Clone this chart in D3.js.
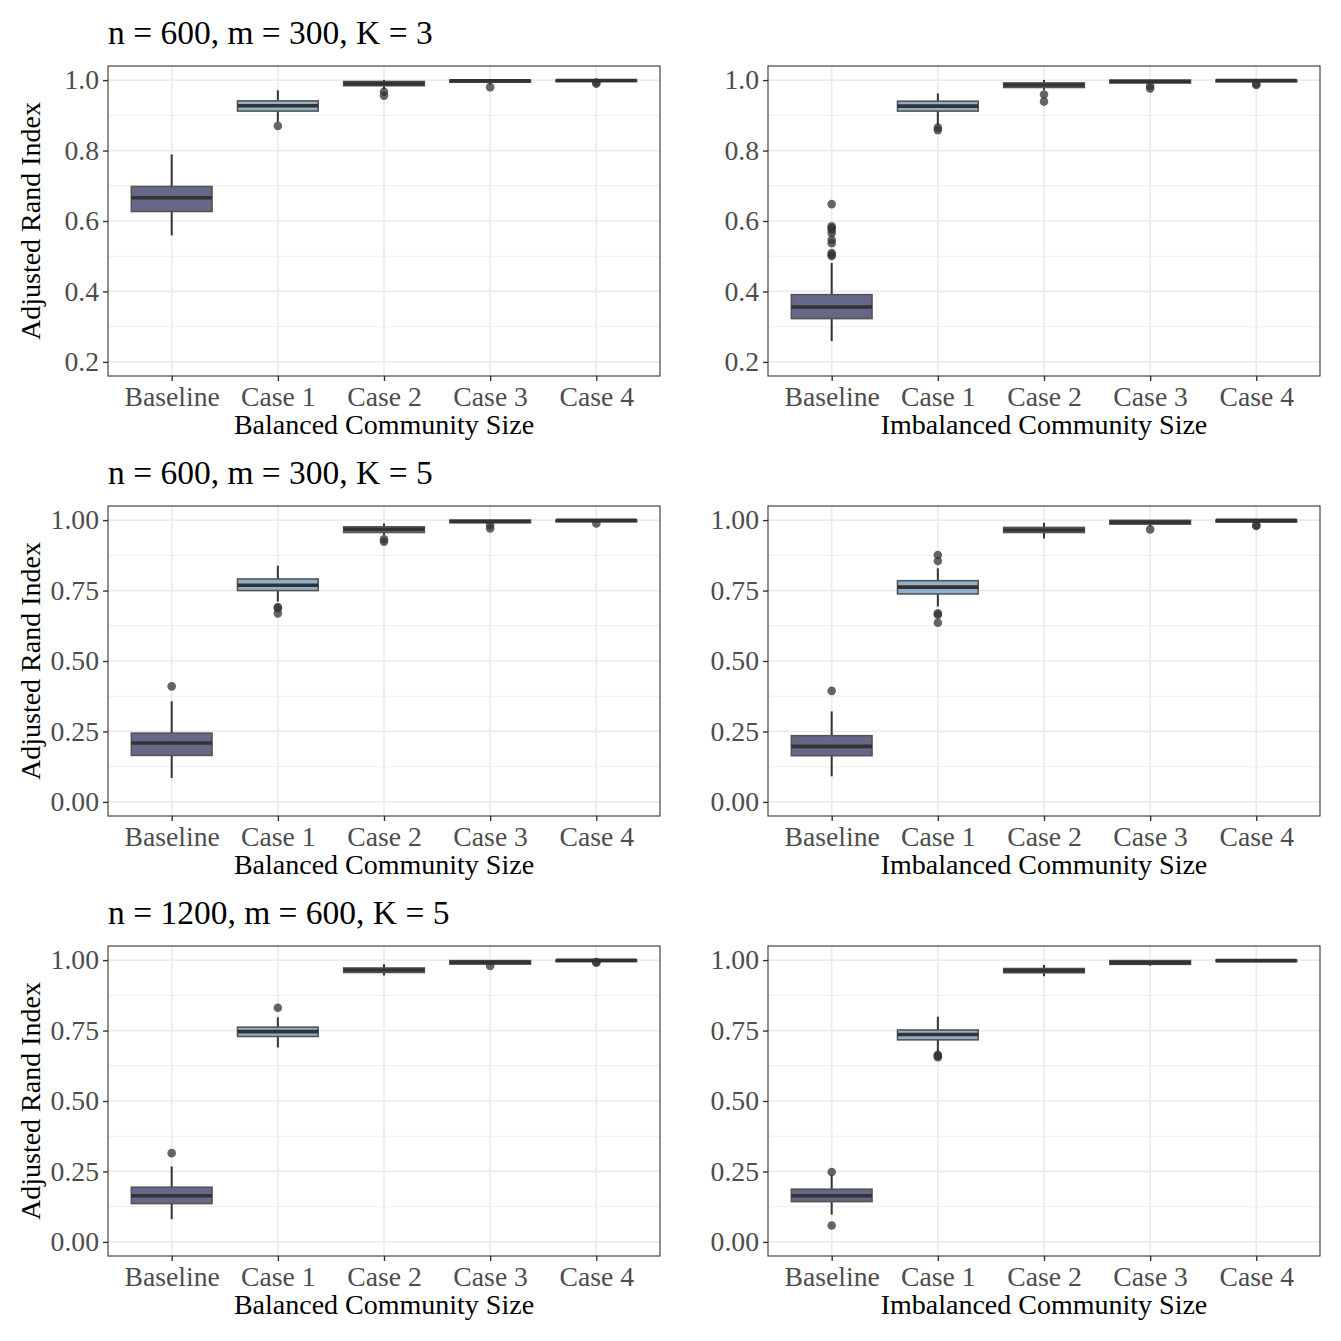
<!DOCTYPE html>
<html>
<head>
<meta charset="utf-8">
<script src="https://cdn.jsdelivr.net/npm/d3@7"></script>
<style>
  body { margin: 0; background: #fff; }
  svg, svg text { font-family: "Liberation Serif", "Times New Roman", serif; }
</style>
</head>
<body>
<svg></svg>
<script>
const categories = ["Baseline", "Case 1", "Case 2", "Case 3", "Case 4"];
const boxFills = ["#5d6083", "#8aadcb", "#6f8aa6", "#a9bdd2", "#cfdbe7"];
const rowTitles = ["n = 600, m = 300, K = 3", "n = 600, m = 300, K = 5", "n = 1200, m = 600, K = 5"];
const colTitles = ["Balanced Community Size", "Imbalanced Community Size"];
const yTitle = "Adjusted Rand Index";

const yTicksK3 = [0.2, 0.4, 0.6, 0.8, 1.0];
const yTicksK5 = [0, 0.25, 0.5, 0.75, 1.0];

// each box: [lower whisker, q1, median, q3, upper whisker]
const balK3Boxes = [
  [0.559, 0.627, 0.666, 0.698, 0.789],
  [0.882, 0.912, 0.927, 0.941, 0.971],
  [0.974, 0.984, 0.990, 0.996, 1.0],
  [0.988, 0.994, 0.998, 1.0, 1.0],
  [0.995, 0.996, 0.999, 1.0, 1.0]
];
const balK3Outliers = [[], [0.870], [0.967, 0.956], [0.980], [0.993, 0.990]];

const imbK3Boxes = [
  [0.259, 0.323, 0.356, 0.391, 0.481],
  [0.872, 0.912, 0.926, 0.940, 0.962],
  [0.972, 0.979, 0.986, 0.992, 1.0],
  [0.988, 0.992, 0.996, 1.0, 1.0],
  [0.993, 0.995, 0.999, 1.0, 1.0]
];
const imbK3Outliers = [
  [0.648, 0.585, 0.580, 0.575, 0.566, 0.547, 0.537, 0.509, 0.504, 0.501],
  [0.865, 0.858], [0.959, 0.939], [0.983, 0.976], [0.989, 0.986]
];

const balK5Boxes = [
  [0.085, 0.165, 0.209, 0.244, 0.357],
  [0.711, 0.750, 0.769, 0.791, 0.838],
  [0.947, 0.956, 0.967, 0.976, 0.988],
  [0.985, 0.991, 0.995, 1.0, 1.0],
  [0.992, 0.994, 0.999, 1.0, 1.0]
];
const balK5Outliers = [[0.410], [0.691, 0.687, 0.669], [0.932, 0.923], [0.982, 0.970], [0.988]];

const imbK5Boxes = [
  [0.091, 0.164, 0.197, 0.235, 0.321],
  [0.693, 0.738, 0.762, 0.785, 0.829],
  [0.935, 0.956, 0.965, 0.974, 0.991],
  [0.978, 0.986, 0.992, 0.999, 1.0],
  [0.988, 0.993, 0.999, 1.0, 1.0]
];
const imbK5Outliers = [[0.394], [0.876, 0.855, 0.669, 0.664, 0.636], [], [0.967], [0.982, 0.979]];

const balN1200Boxes = [
  [0.081, 0.136, 0.164, 0.194, 0.268],
  [0.690, 0.729, 0.746, 0.762, 0.797],
  [0.945, 0.956, 0.965, 0.972, 0.985],
  [0.983, 0.986, 0.992, 0.998, 1.0],
  [0.994, 0.995, 0.999, 1.0, 1.0]
];
const balN1200Outliers = [[0.315], [0.831], [], [0.979], [0.991, 0.993]];

const imbN1200Boxes = [
  [0.097, 0.143, 0.164, 0.187, 0.238],
  [0.675, 0.717, 0.736, 0.752, 0.799],
  [0.943, 0.955, 0.963, 0.970, 0.983],
  [0.980, 0.985, 0.991, 0.998, 1.0],
  [0.994, 0.995, 0.998, 1.0, 1.0]
];
const imbN1200Outliers = [[0.248, 0.058], [0.664, 0.660, 0.655], [], [], []];

const rows = [
  { domain: [0.16, 1.04], ticks: yTicksK3, fmt: ".1f", panels: [[balK3Boxes, balK3Outliers], [imbK3Boxes, imbK3Outliers]] },
  { domain: [-0.05, 1.05], ticks: yTicksK5, fmt: ".2f", panels: [[balK5Boxes, balK5Outliers], [imbK5Boxes, imbK5Outliers]] },
  { domain: [-0.05, 1.05], ticks: yTicksK5, fmt: ".2f", panels: [[balN1200Boxes, balN1200Outliers], [imbN1200Boxes, imbN1200Outliers]] }
];

const svg = d3.select("svg").attr("width", 1341).attr("height", 1341);

const colX = [108, 768];
const rowY = [66, 506, 946];
const plotW = 552;
const plotH = 310;
const serif = "Liberation Serif, Times New Roman, serif";

rows.forEach((row, ri) => {
  row.panels.forEach(([boxes, outliers], ci) => {
    const g = svg.append("g").attr("transform", `translate(${colX[ci]}, ${rowY[ri]})`);

    const x = d3.scalePoint().domain(categories).range([0, plotW]).padding(0.6);
    const y = d3.scaleLinear().domain(row.domain).range([plotH, 0]);
    const boxW = x.step() * 0.76;

    // minor grid
    const minor = d3.pairs(row.ticks).map(([a, b]) => (a + b) / 2);
    g.selectAll(".minor").data(minor).join("line")
      .attr("x1", 0).attr("x2", plotW)
      .attr("y1", d => y(d)).attr("y2", d => y(d))
      .attr("stroke", "#ebebeb").attr("stroke-width", 0.9);
    // major grid
    g.selectAll(".hgrid").data(row.ticks).join("line")
      .attr("x1", 0).attr("x2", plotW)
      .attr("y1", d => y(d)).attr("y2", d => y(d))
      .attr("stroke", "#ebebeb").attr("stroke-width", 1.7);
    g.selectAll(".vgrid").data(categories).join("line")
      .attr("x1", d => x(d)).attr("x2", d => x(d))
      .attr("y1", 0).attr("y2", plotH)
      .attr("stroke", "#ebebeb").attr("stroke-width", 1.7);

    // boxes
    const bg = g.selectAll(".box").data(boxes).join("g")
      .attr("transform", (d, i) => `translate(${x(categories[i])}, 0)`);

    bg.append("line")
      .attr("y1", d => y(d[0])).attr("y2", d => y(d[1]))
      .attr("stroke", "#333").attr("stroke-width", 2);
    bg.append("line")
      .attr("y1", d => y(d[3])).attr("y2", d => y(d[4]))
      .attr("stroke", "#333").attr("stroke-width", 2);
    bg.append("rect")
      .attr("x", -boxW / 2).attr("width", boxW)
      .attr("y", d => y(d[3])).attr("height", d => y(d[1]) - y(d[3]))
      .attr("fill", (d, i) => boxFills[i])
      .attr("fill-opacity", 0.95)
      .attr("stroke", "#555").attr("stroke-width", 1.6);
    bg.append("line")
      .attr("x1", -boxW / 2).attr("x2", boxW / 2)
      .attr("y1", d => y(d[2])).attr("y2", d => y(d[2]))
      .attr("stroke", "#333").attr("stroke-width", 3.6);

    // outliers
    outliers.forEach((vals, i) => {
      g.selectAll(null).data(vals).join("circle")
        .attr("cx", x(categories[i]))
        .attr("cy", d => y(d))
        .attr("r", 4.3)
        .attr("fill", "#333")
        .attr("fill-opacity", 0.75);
    });

    // border
    g.append("rect").attr("width", plotW).attr("height", plotH)
      .attr("fill", "none").attr("stroke", "#333").attr("stroke-width", 1.1);

    // axes
    const yAxis = d3.axisLeft(y).tickValues(row.ticks).tickFormat(d3.format(row.fmt)).tickSize(5).tickPadding(4);
    const yAxisG = g.append("g").call(yAxis).attr("font-family", serif);
    yAxisG.select(".domain").remove();

    const xAxis = d3.axisBottom(x).tickSize(5).tickPadding(4);
    const xAxisG = g.append("g").attr("transform", `translate(0, ${plotH})`).call(xAxis).attr("font-family", serif);
    xAxisG.select(".domain").remove();

    [yAxisG, xAxisG].forEach(a => {
      a.selectAll(".tick line").attr("stroke", "#333").attr("stroke-width", 1.4);
      a.selectAll(".tick text")
        .attr("fill", "#4d4d4d")
        .style("font-size", "27.7px");
    });
    xAxisG.selectAll(".tick text").attr("dy", "0.71em").attr("y", 10);

    g.append("text")
      .attr("x", plotW / 2).attr("y", plotH + 58)
      .attr("fill", "black").attr("text-anchor", "middle")
      .style("font-size", "28px")
      .text(colTitles[ci]);

    if (ci === 0) {
      g.append("text")
        .attr("transform", "rotate(-90)")
        .attr("x", -plotH / 2).attr("y", -68)
        .attr("fill", "black").attr("text-anchor", "middle")
        .style("font-size", "28px")
        .text(yTitle);

      g.append("text")
        .attr("x", 0).attr("y", -22)
        .attr("fill", "black")
        .style("font-size", "33.5px")
        .text(rowTitles[ri]);
    }
  });
});
</script>
</body>
</html>
